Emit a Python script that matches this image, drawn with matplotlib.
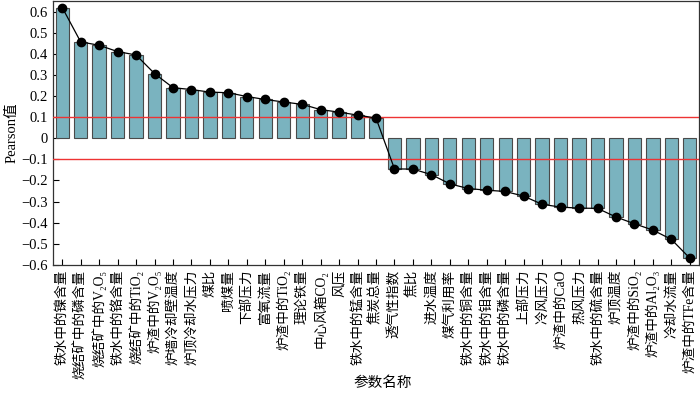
import numpy as np
import matplotlib
matplotlib.use("Agg")
import matplotlib.pyplot as plt

plt.rcParams["font.family"] = ["Liberation Serif", "Noto Sans CJK SC", "DejaVu Sans"]
plt.rcParams["axes.unicode_minus"] = True

params = ["铁水中的镍含量", "烧结矿中的磷含量", "烧结矿中的V₂O₅", "铁水中的铬含量",
          "烧结矿中的TiO₂", "炉渣中的V₂O₅", "炉墙冷却壁温度", "炉顶冷却水压力",
          "煤比", "喷煤量", "下部压力", "富氧流量", "炉渣中的TiO₂", "理论铁量",
          "中心风箱CO₂", "风压", "铁水中的锰含量", "焦炭总量", "透气性指数", "焦比",
          "进水温度", "煤气利用率", "铁水中的铜含量", "铁水中的钼含量", "铁水中的磷含量",
          "上部压力", "冷风压力", "炉渣中的CaO", "热风压力", "铁水中的硫含量",
          "炉顶温度", "炉渣中的SiO₂", "炉渣中的Al₂O₃", "冷却水流量", "炉渣中的TFe含量"]
pearson = [0.620, 0.457, 0.441, 0.411, 0.395, 0.307, 0.240, 0.231, 0.219, 0.216,
           0.198, 0.184, 0.172, 0.161, 0.136, 0.124, 0.110, 0.096, -0.145, -0.146,
           -0.172, -0.216, -0.238, -0.246, -0.252, -0.274, -0.313, -0.326, -0.331,
           -0.332, -0.373, -0.405, -0.435, -0.479, -0.568]
thresholds = [0.1, -0.1]
yticks = np.round(np.arange(-0.6, 0.61, 0.1), 1)

fig = plt.figure(figsize=(7.0, 3.93), dpi=100)
ax = fig.add_axes([0.0757, 0.326, 0.9229, 0.671])

x = np.arange(len(params))
ax.bar(x, pearson, width=0.72, color="#7ab3bf", edgecolor="#4a4a4a",
       linewidth=0.8, zorder=2)
for t in thresholds:
    ax.axhline(t, color="#ee3333", linewidth=1.0, zorder=3)
ax.plot(x, pearson, color="black", linewidth=0.9, marker="o",
        markersize=6, zorder=4)

ax.set_xlim(-0.5, len(params) - 0.5)
ax.set_ylim(-0.6, 0.65)
ax.set_yticks(yticks)
ax.set_yticklabels(["0" if v == 0 else f"{v:.1f}".replace("-", "\u2212") for v in yticks])
ax.set_xticks(x)
ax.set_xticklabels(params, rotation=90, fontsize=9.8)
ax.tick_params(axis="both", direction="in", length=4, width=0.8)
ax.tick_params(axis="y", labelsize=10.5)
for s in ax.spines.values():
    s.set_linewidth(0.9)
    s.set_color("#333333")

ax.set_ylabel("Pearson值", fontsize=10.5, labelpad=2)
fig.text(0.547, 0.025, "参数名称", fontsize=10.5, ha="center", va="center")

fig.savefig("out.png", dpi=100)
